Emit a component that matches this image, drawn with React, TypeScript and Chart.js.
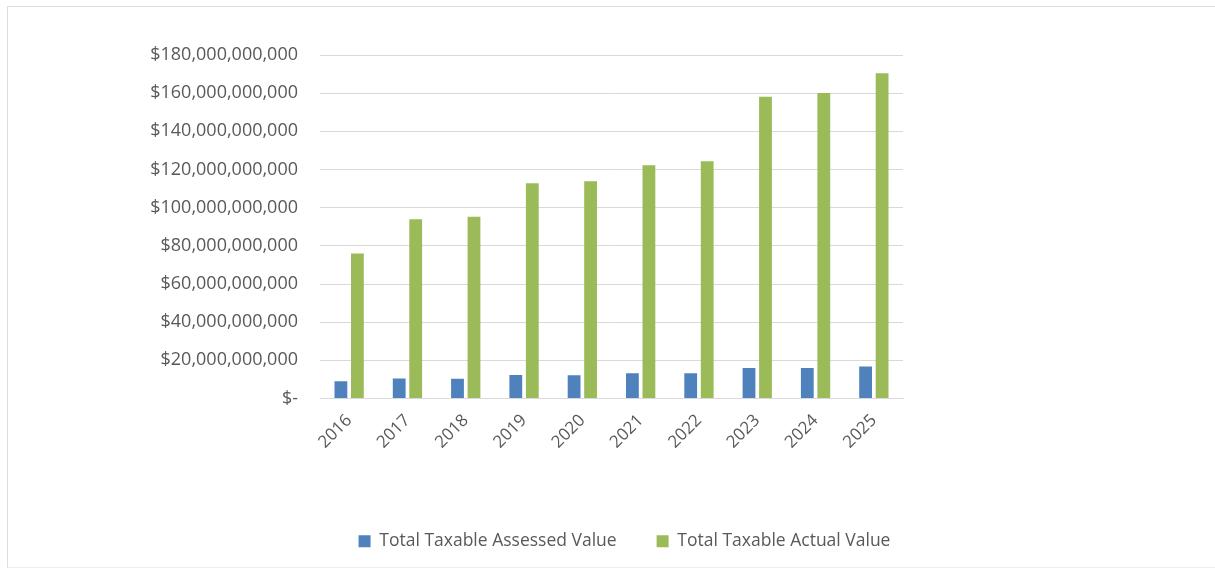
import React, { useEffect, useRef } from "react";
import { Chart, registerables } from "chart.js";

Chart.register(...registerables);

const years = ["2016", "2017", "2018", "2019", "2020", "2021", "2022", "2023", "2024", "2025"];
const assessedValues = [
  9100000000, 10500000000, 10400000000, 12300000000, 12200000000,
  13200000000, 13200000000, 16000000000, 16000000000, 16800000000,
];
const actualValues = [
  76000000000, 93900000000, 95200000000, 112800000000, 113900000000,
  122200000000, 124300000000, 158100000000, 160100000000, 170400000000,
];
const seriesNames = ["Total Taxable Assessed Value", "Total Taxable Actual Value"];
const seriesColors = ["#4F81BD", "#9BBB59"];
const yMax = 180000000000;
const yStep = 20000000000;

const FONT = "'Open Sans', sans-serif";
const TEXT = "#595959";
const GRID = "#d9d9d9";

export default function App() {
  const canvasRef = useRef<HTMLCanvasElement | null>(null);

  useEffect(() => {
    if (!canvasRef.current) return;
    const chart = new Chart(canvasRef.current, {
      type: "bar",
      data: {
        labels: years,
        datasets: [
          {
            label: seriesNames[0],
            data: assessedValues,
            backgroundColor: seriesColors[0],
            categoryPercentage: 0.566,
            barPercentage: 0.776,
          },
          {
            label: seriesNames[1],
            data: actualValues,
            backgroundColor: seriesColors[1],
            categoryPercentage: 0.566,
            barPercentage: 0.776,
          },
        ],
      },
      options: {
        animation: false,
        responsive: true,
        maintainAspectRatio: false,
        layout: { padding: { left: 26, right: 0, top: 48, bottom: 7 } },
        plugins: {
          tooltip: { enabled: false },
          legend: {
            position: "bottom",
            labels: {
              boxWidth: 12,
              boxHeight: 12,
              padding: 40,
              color: TEXT,
              font: { family: FONT, size: 17.5 },
            },
          },
        },
        scales: {
          x: {
            grid: { display: false },
            border: { display: true, color: GRID, width: 1 },
            ticks: {
              color: TEXT,
              font: { family: FONT, size: 17 },
              minRotation: 45,
              maxRotation: 45,
              padding: 4,
            },
            afterFit: (s: any) => {
              s.height = 94;
            },
          },
          y: {
            min: 0,
            max: yMax,
            border: { display: false },
            grid: { color: GRID, drawTicks: false, lineWidth: 1 },
            ticks: {
              stepSize: yStep,
              color: TEXT,
              padding: 22,
              font: { family: FONT, size: 18 },
              callback: (v: any) =>
                Number(v) === 0 ? "$-" : "$" + Number(v).toLocaleString("en-US"),
            },
            afterFit: (s: any) => {
              s.width = 286;
            },
          },
          yRight: {
            type: "linear",
            position: "right",
            display: true,
            grid: { display: false },
            border: { display: false },
            ticks: { display: false },
            afterFit: (s: any) => {
              s.width = 312;
            },
          },
        },
      },
    } as any);
    return () => chart.destroy();
  }, []);

  return (
    <div
      style={{
        position: "absolute",
        left: 7,
        top: 6,
        width: 1207,
        height: 560,
        borderTop: "1px solid #dedede",
        borderLeft: "1px solid #dedede",
        borderBottom: "1px solid #eeeeee",
        background: "#ffffff",
      }}
    >
      <div style={{ position: "relative", width: 1207, height: 560 }}>
        <canvas ref={canvasRef} />
      </div>
    </div>
  );
}
